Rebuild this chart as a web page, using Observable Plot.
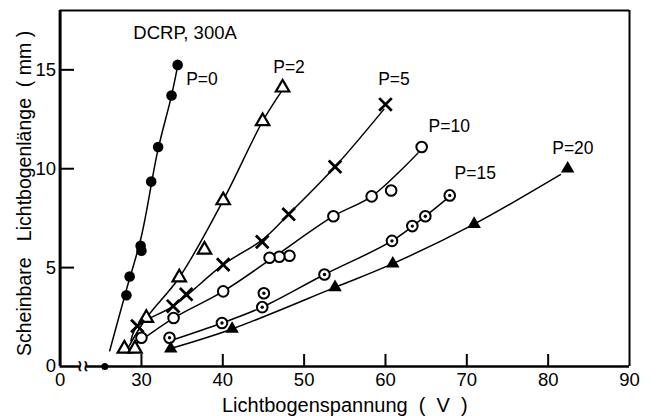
<!DOCTYPE html>
<html>
<head>
<meta charset="utf-8">
<script src="https://cdn.jsdelivr.net/npm/d3@7"></script>
<script src="https://cdn.jsdelivr.net/npm/@observablehq/plot@0.6"></script>
<style>
  html, body { margin: 0; padding: 0; background: #fff; }
  #chart svg { display: block; }
</style>
</head>
<body>
<div id="chart"></div>
<script>
// ---- data (V = arc voltage, L = apparent arc length mm) ----
const p0V  = [34.45, 33.7, 32.05, 31.2, 29.9, 30.0, 28.55, 28.15];
const p0L  = [15.25, 13.7, 11.1, 9.35, 6.1, 5.85, 4.55, 3.6];
const p2V  = [47.35, 44.9, 40.05, 37.75, 34.65, 30.6, 27.9, 29.2];
const p2L  = [14.1, 12.4, 8.4, 5.9, 4.5, 2.45, 0.9, 0.9];
const p5V  = [60.0, 53.8, 48.1, 44.85, 40.05, 35.5, 33.9, 29.5];
const p5L  = [13.25, 10.1, 7.7, 6.3, 5.15, 3.65, 3.05, 2.05];
const p10V = [64.45, 60.7, 58.3, 53.6, 48.2, 46.95, 45.75, 40.05, 33.95, 30.0];
const p10L = [11.1, 8.9, 8.6, 7.6, 5.6, 5.55, 5.5, 3.8, 2.45, 1.45];
const p15V = [67.9, 64.9, 63.3, 60.8, 52.5, 45.05, 44.85, 39.9, 33.45];
const p15L = [8.65, 7.6, 7.1, 6.35, 4.65, 3.7, 3.0, 2.2, 1.45];
const p20V = [82.4, 70.9, 60.9, 53.8, 41.15, 33.6];
const p20L = [10.0, 7.2, 5.2, 4.0, 1.9, 0.9];
const originV = [25.5];
const originL = [0];

// hand-drawn fitted curves
const c0V  = [26.1, 28.1, 30.0, 32.0, 33.7, 34.45];
const c0L  = [0.8, 3.8, 6.6, 10.9, 13.7, 15.2];
const c2V  = [28.3, 30.6, 34.65, 40.05, 44.9, 47.2];
const c2L  = [0.9, 2.45, 4.5, 8.4, 12.4, 13.9];
const c5V  = [28.7, 29.5, 33.9, 40.05, 44.85, 48.1, 53.8, 59.8];
const c5L  = [1.3, 2.05, 3.05, 5.15, 6.4, 7.7, 10.1, 13.0];
const c10V = [29.2, 33.95, 40.05, 46.0, 53.6, 58.3, 64.0];
const c10L = [1.1, 2.45, 3.8, 5.45, 7.6, 8.6, 10.8];
const c15V = [33.9, 39.9, 44.85, 52.5, 60.8, 64.9, 67.6];
const c15L = [1.35, 2.2, 3.0, 4.65, 6.35, 7.6, 8.5];
const c20V = [33.9, 41.15, 53.8, 60.9, 70.9, 81.5];
const c20L = [0.95, 1.9, 4.0, 5.2, 7.2, 9.7];

const labelText = ["DCRP, 300A", "P=0", "P=2", "P=5", "P=10", "P=15", "P=20"];
const labelV    = [29.0, 35.5, 46.2, 59.1, 65.3, 68.5, 80.5];
const labelL    = [16.85, 14.5, 15.1, 14.5, 12.15, 9.75, 11.05];

const xTicks = [20, 30, 40, 50, 60, 70, 80, 90];
const xTickMarks = [30, 40, 50, 60, 70, 80];
const yTicks = [0, 5, 10, 15];
const xTitle = "Lichtbogenspannung  (  V  )";
const yTitle = "Scheinbare   Lichtbogenlänge  ( mm )";

const zip = (xs, ys) => xs.map((x, i) => ({x, y: ys[i]}));
const font = "'Liberation Sans', Arial, Helvetica, sans-serif";

const chart = Plot.plot({
  width: 656,
  height: 416,
  marginLeft: 59.6,
  marginRight: 27,
  marginTop: 10,
  marginBottom: 50,
  style: {fontFamily: font, fontSize: "18px", color: "black", background: "white"},
  x: {domain: [20, 90]},
  y: {domain: [0, 18]},
  marks: [
    // frame
    Plot.ruleY([18], {strokeWidth: 2}),
    Plot.ruleX([90], {strokeWidth: 2}),
    Plot.ruleX([20], {strokeWidth: 3}),
    Plot.ruleY([0], {x1: 20, x2: 22.4, strokeWidth: 2.5}),
    Plot.ruleY([0], {x1: 23.3, x2: 90, strokeWidth: 2.5}),
    Plot.text([0], {x: 22.85, y: 0, text: () => "≀≀", fontSize: 15, fontWeight: "bold"}),
    // ticks (inward)
    Plot.tickX(xTickMarks, {x: d => d, insetTop: 344, strokeWidth: 2}),
    Plot.tickY(yTicks.slice(1), {y: d => d, insetRight: 555, strokeWidth: 2}),
    Plot.axisX({ticks: xTicks, tickSize: 0, tickPadding: 6, tickFormat: d => d === 20 ? "0" : String(d), fontSize: 18.5, label: null}),
    Plot.axisY({ticks: yTicks, tickSize: 0, tickPadding: 4, fontSize: 18.5, label: null}),
    // axis titles
    Plot.text([xTitle], {frameAnchor: "bottom", dy: 45, lineAnchor: "bottom", text: d => d, fontSize: 20, x: () => 55}),
    Plot.text([yTitle], {frameAnchor: "left", dx: -35.5, rotate: -90, textAnchor: "middle", text: d => d, fontSize: 19.5, y: () => 8.75}),
    // curves
    Plot.line(zip(c0V, c0L), {x: "x", y: "y", curve: "catmull-rom", strokeWidth: 1.5}),
    Plot.line(zip(c2V, c2L), {x: "x", y: "y", curve: "catmull-rom", strokeWidth: 1.5}),
    Plot.line(zip(c5V, c5L), {x: "x", y: "y", curve: "catmull-rom", strokeWidth: 1.5}),
    Plot.line(zip(c10V, c10L), {x: "x", y: "y", curve: "catmull-rom", strokeWidth: 1.5}),
    Plot.line(zip(c15V, c15L), {x: "x", y: "y", curve: "catmull-rom", strokeWidth: 1.5}),
    Plot.line(zip(c20V, c20L), {x: "x", y: "y", curve: "catmull-rom", strokeWidth: 1.5}),
    // markers
    Plot.dot(zip(originV, originL), {x: "x", y: "y", r: 3.5, fill: "black"}),
    Plot.dot(zip(p0V, p0L), {x: "x", y: "y", r: 5.3, fill: "black"}),
    Plot.dot(zip(p2V, p2L), {x: "x", y: "y", symbol: "triangle", r: 5, fill: "white", stroke: "black", strokeWidth: 2.2}),
    Plot.dot(zip(p5V, p5L), {x: "x", y: "y", symbol: "times", r: 5.8, stroke: "black", strokeWidth: 2.8}),
    Plot.dot(zip(p10V, p10L), {x: "x", y: "y", r: 5.3, fill: "white", stroke: "black", strokeWidth: 2}),
    Plot.dot(zip(p15V, p15L), {x: "x", y: "y", r: 5.3, fill: "white", stroke: "black", strokeWidth: 2}),
    Plot.dot(zip(p15V, p15L), {x: "x", y: "y", r: 1.7, fill: "black"}),
    Plot.dot(zip(p20V, p20L), {x: "x", y: "y", symbol: "triangle", r: 5, fill: "black"}),
    // labels
    Plot.text(labelText.map((t, i) => ({t, x: labelV[i], y: labelL[i]})), {x: "x", y: "y", text: "t", textAnchor: "start", fontSize: (d, i) => i === 0 ? 18.5 : 17.5})
  ]
});
document.getElementById("chart").appendChild(chart);
</script>
</body>
</html>
